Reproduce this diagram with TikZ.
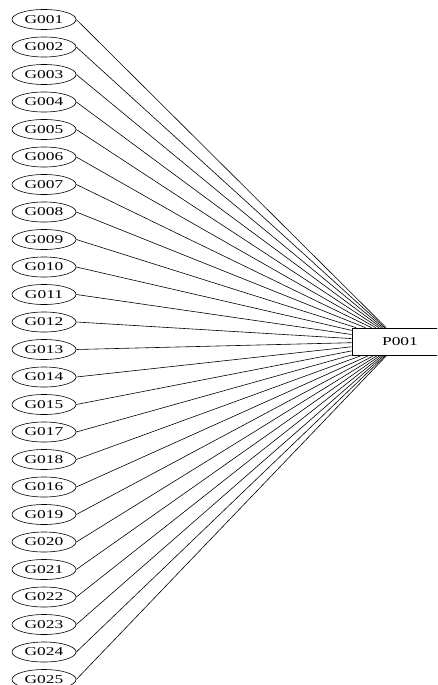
\documentclass[tikz,border=0pt]{standalone}
\usepackage{fontspec}
\setmainfont{Liberation Serif}
\usepackage{graphicx}
\usetikzlibrary{shapes.geometric}
\begin{document}
\begin{tikzpicture}[x=1pt,y=-1pt,
  gene/.style={draw, ellipse, line width=0.6pt, inner sep=0pt,
    minimum width=64pt, minimum height=20pt,
    font=\fontsize{12}{12}\selectfont},
  prot/.style={draw, rectangle, line width=0.6pt, inner sep=0pt,
    minimum width=96pt, minimum height=27pt,
    font=\fontsize{12}{12}\selectfont},
  link/.style={line width=0.6pt}]
\useasboundingbox (0,0) rectangle (437,685);
\clip (0,0) rectangle (437,685);
\node[prot] (p) at (400,341.5) {\scalebox{1.45}[1]{P001}};
\foreach \lab [count=\i from 0] in {G001,G002,G003,G004,G005,G006,G007,G008,G009,G010,G011,G012,G013,G014,G015,G017,G018,G016,G019,G020,G021,G022,G023,G024,G025}{
  \node[gene] (\lab) at (44,19.5+27.5*\i) {\scalebox{1.45}[1]{\lab}};
  \draw[link] (\lab.east) -- (p);
}
\end{tikzpicture}
\end{document}
